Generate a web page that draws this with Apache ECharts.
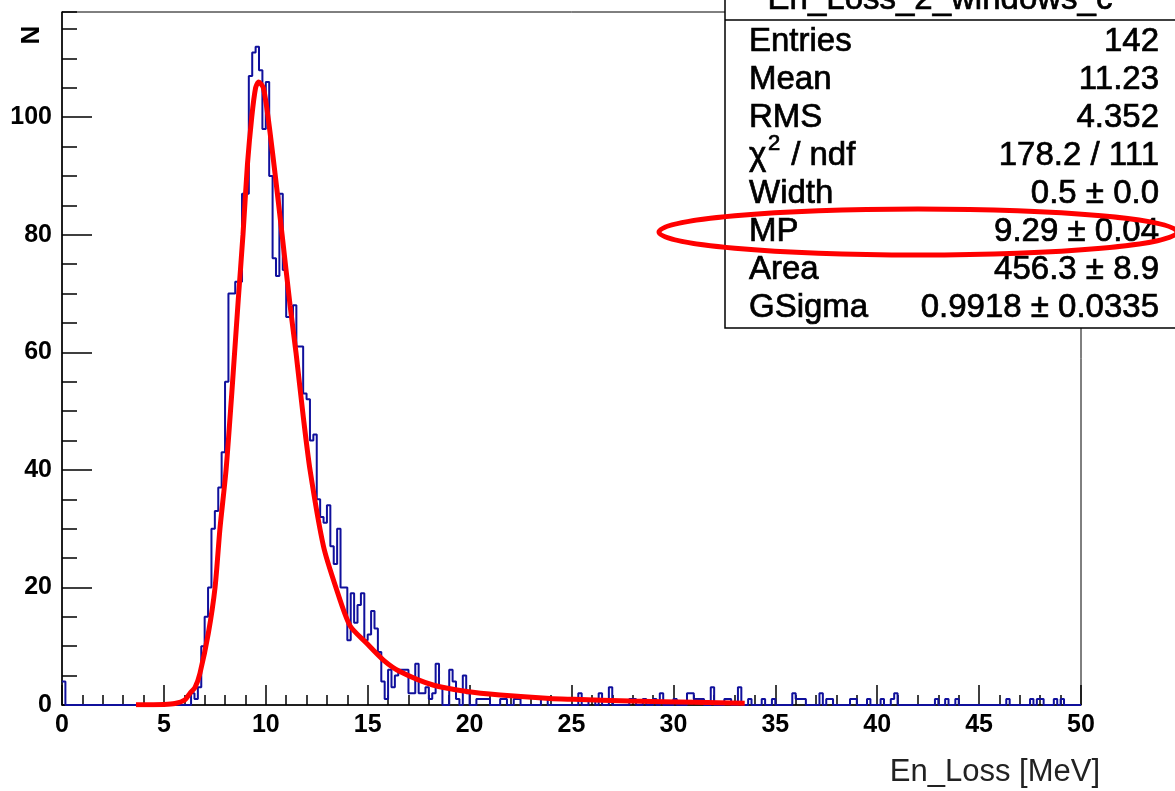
<!DOCTYPE html>
<html>
<head>
<meta charset="utf-8">
<script src="https://cdn.jsdelivr.net/npm/echarts@6/dist/echarts.min.js"></script>
<style>
html, body { margin: 0; padding: 0; background: #fff; }
#chart { width: 1175px; height: 791px; }
</style>
</head>
<body>
<div id="chart"></div>
<script>
// histogram: 300 bins from 0 to 50 MeV
var binCount = 300;
var xMin = 0, xMax = 50;
// contiguous bins of the main peak, starting at bin 38
var peakFirstBin = 38;
var peakCounts = [2, 1, 3, 10, 15, 20, 30, 33, 37, 43,
    55, 70, 70, 72, 72, 87, 87, 107, 111, 112,
    108, 98, 106, 90, 76, 73, 87, 74, 66, 66,
    68, 61, 61, 53, 52, 45, 46, 35, 32, 31,
    34, 27, 24, 30, 20, 20, 11, 19, 14, 17,
    19, 11, 12, 16, 13, 9, 4, 1, 6, 3,
    5, 6, 6, 6, 2, 2, 7, 2, 2, 3,
    1, 2, 7, 3, 0, 0, 6, 4, 1, 0,
    5, 2, 0, 0, 1, 1, 1, 1];
// isolated bins elsewhere: [bin index, count]
var otherBins = [[0, 4], [129, 1], [130, 1], [133, 1], [134, 1], [141, 1], [142, 1],
    [152, 2], [155, 1], [156, 1], [158, 2], [161, 3], [167, 1], [168, 1], [171, 1],
    [174, 1], [176, 2], [180, 1], [184, 2], [185, 2], [186, 1], [187, 1], [188, 1],
    [191, 3], [195, 1], [196, 1], [199, 3], [202, 1], [206, 1], [209, 1], [215, 2],
    [216, 1], [217, 1], [218, 1], [223, 2], [225, 1], [226, 1], [232, 1], [233, 1],
    [237, 1], [241, 1], [244, 1], [245, 2], [257, 1], [260, 1], [263, 1], [278, 1],
    [285, 1], [287, 1], [288, 1], [292, 1], [294, 1]];

// fitted curve
var fitX = [3.63, 5.0, 5.54, 6.04, 6.28, 6.53, 6.77, 7.18, 7.51, 7.75,
    8.05, 8.33, 8.47, 8.65, 8.88, 9.1, 9.31, 9.5, 9.65, 9.88,
    10.13, 10.45, 10.8, 11.19, 11.48, 11.84, 12.17, 12.83, 13.44, 14.13,
    14.95, 15.77, 16.58, 18.2, 19.86, 21.5, 23.95, 25.1, 27.87, 31.1, 33.5];
var fitY = [0.05, 0.1, 0.25, 0.9, 2, 3, 5.4, 12.2, 20, 30,
    40, 53, 60, 69, 80, 92, 100, 105, 106, 105,
    99.5, 90.5, 80, 68, 60, 49, 40, 27, 20, 13.5,
    10.5, 7.65, 5.7, 3.4, 2.3, 1.7, 1.1, 0.97, 0.68, 0.45, 0.28];

var statNames = ['Entries', 'Mean', 'RMS', '', 'Width', 'MP', 'Area', 'GSigma'];
var statValues = ['142', '11.23', '4.352', '178.2 / 111', '0.5 \u00b1 0.0', '9.29 \u00b1 0.04', '456.3 \u00b1 8.9', '0.9918 \u00b1 0.0335'];
var statTitle = 'En_Loss_2_windows_c';

function chart(){
var myChart = echarts.init(document.getElementById('chart'));

var counts = [];
for (var i = 0; i < binCount; i++) counts.push(0);
peakCounts.forEach(function (c, i) { counts[peakFirstBin + i] = c; });
otherBins.forEach(function (b) { counts[b[0]] = b[1]; });
var binW = (xMax - xMin) / binCount;
var histData = counts.map(function (c, i) { return [xMin + i * binW, c]; });
histData.push([xMax, counts[binCount - 1]]);

var fitData = fitX.map(function (x, i) { return [x, fitY[i]]; });

var font = 'Liberation Sans';
// stats box text, a little heavier than plain regular
function statText(t, x, y, align, size) {
    return {type: 'text', x: x, y: y, z: 101,
        style: {text: t, font: (size || 33) + 'px ' + font, fill: '#000',
            stroke: '#000', lineWidth: 0.7, align: align, verticalAlign: 'middle'}};
}
var graphics = [
    {type: 'rect', shape: {x: 725, y: -2, width: 470, height: 330}, z: 100,
        style: {fill: '#fff', stroke: '#000', lineWidth: 1.5}},
    {type: 'line', shape: {x1: 725, y1: 20, x2: 1175, y2: 20}, z: 101,
        style: {stroke: '#000', lineWidth: 1.5}},
    statText(statTitle, 940, 0, 'center')
];
var rowY0 = 41.5, rowStep = 38.1;
statNames.forEach(function (n, i) {
    var y = rowY0 + i * rowStep;
    if (n) graphics.push(statText(n, 749, y, 'left'));
    graphics.push(statText(statValues[i], 1159, y, 'right'));
});
// chi2 / ndf label
var chiY = rowY0 + 3 * rowStep;
graphics.push(statText('\u03c7', 749, chiY, 'left'));
graphics.push(statText('2', 768, chiY - 12, 'left', 22));
graphics.push(statText(' / ndf', 782, chiY, 'left'));
// red ellipse round the MP row
graphics.push({type: 'ellipse', shape: {cx: 918, cy: 232, rx: 259, ry: 23}, z: 110,
    style: {fill: 'none', stroke: '#ff0000', lineWidth: 5}});
// axis titles
graphics.push({type: 'text', x: 32, y: 35, rotation: Math.PI / 2, z: 101,
    style: {text: 'N', font: 'bold 26px ' + font, fill: '#000', align: 'center', verticalAlign: 'middle'}});
graphics.push({type: 'text', x: 1100, y: 772, z: 101,
    style: {text: 'En_Loss [MeV]', font: '31px ' + font, fill: '#222', align: 'right', verticalAlign: 'middle'}});

option = {
    animation: false,
    backgroundColor: '#fff',
    grid: {
        left: 62, right: 94, top: 12, bottom: 86,
        show: true, borderColor: '#000', borderWidth: 1
    },
    xAxis: {
        type: 'value',
        min: 0, max: 50, interval: 5,
        splitLine: {show: false},
        axisLine: {onZero: false, lineStyle: {color: '#000', width: 1.5}},
        axisTick: {inside: true, length: 20, lineStyle: {color: '#000', width: 1.5}},
        minorTick: {show: true, splitNumber: 5, length: 10, lineStyle: {color: '#000', width: 1.5}},
        axisLabel: {color: '#000', fontFamily: font, fontWeight: 'bold', fontSize: 25, margin: 8}
    },
    yAxis: [{
        type: 'value',
        min: 0, max: 117.9, interval: 20,
        splitLine: {show: false},
        axisLine: {show: true, lineStyle: {color: '#000', width: 1.5}},
        axisTick: {show: true, inside: true, length: 30, lineStyle: {color: '#000', width: 1.5}},
        axisLabel: {color: '#000', fontFamily: font, fontWeight: 'bold', fontSize: 25, margin: 10, showMaxLabel: false}
    }, {
        type: 'value',
        position: 'left',
        min: 0, max: 117.9, interval: 5,
        splitLine: {show: false},
        axisLine: {show: false},
        axisTick: {show: true, inside: true, length: 15, lineStyle: {color: '#000', width: 1.5}},
        axisLabel: {show: false}
    }],
    graphic: graphics,
    series: [{
        type: 'line',
        data: histData,
        step: 'end',
        symbol: 'none',
        clip: true,
        lineStyle: {color: '#10109c', width: 2},
        z: 2
    }, {
        type: 'line',
        data: fitData,
        smooth: 0.25,
        symbol: 'none',
        clip: true,
        lineStyle: {color: '#ff0000', width: 5},
        z: 3
    }]
};
myChart.setOption(option);
}
chart();
</script>
</body>
</html>
